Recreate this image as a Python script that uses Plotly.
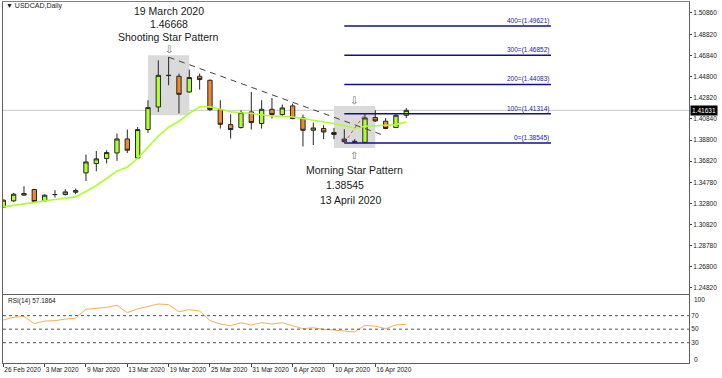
import plotly.graph_objects as go

# ---------------- data ----------------
dates = ["26 Feb 2020", "27 Feb 2020", "28 Feb 2020", "2 Mar 2020", "3 Mar 2020",
         "4 Mar 2020", "5 Mar 2020", "6 Mar 2020", "9 Mar 2020", "10 Mar 2020",
         "11 Mar 2020", "12 Mar 2020", "13 Mar 2020", "16 Mar 2020", "17 Mar 2020",
         "18 Mar 2020", "19 Mar 2020", "20 Mar 2020", "23 Mar 2020", "24 Mar 2020",
         "25 Mar 2020", "26 Mar 2020", "27 Mar 2020", "30 Mar 2020", "31 Mar 2020",
         "1 Apr 2020", "2 Apr 2020", "3 Apr 2020", "6 Apr 2020", "7 Apr 2020",
         "8 Apr 2020", "9 Apr 2020", "10 Apr 2020", "13 Apr 2020", "14 Apr 2020",
         "15 Apr 2020", "16 Apr 2020", "17 Apr 2020", "20 Apr 2020", "21 Apr 2020"]

opens = [1.3245, 1.3305, 1.3359, 1.3413, 1.3305, 1.3365, 1.3365, 1.3387, 1.3570, 1.3659,
         1.3706, 1.3759, 1.3892, 1.3712, 1.3981, 1.4195, 1.4496, 1.4486, 1.4337, 1.4486,
         1.4448, 1.4170, 1.4028, 1.4000, 1.4148, 1.4038, 1.4173, 1.4123, 1.4205, 1.4091,
         1.3974, 1.3991, 1.3953, 1.3891, 1.3870, 1.3860, 1.4095, 1.4060, 1.4000, 1.4116]
highs = [1.3318, 1.3381, 1.3444, 1.3419, 1.3365, 1.3406, 1.3416, 1.3422, 1.3744, 1.3778,
         1.3785, 1.3943, 1.3981, 1.4006, 1.4259, 1.4637, 1.46668, 1.4511, 1.4549, 1.4511,
         1.4455, 1.4259, 1.4126, 1.4164, 1.4337, 1.4259, 1.4280, 1.4218, 1.4227, 1.4123,
         1.4047, 1.4022, 1.3996, 1.3984, 1.3890, 1.41314, 1.4164, 1.4091, 1.4126, 1.4185]
lows = [1.3238, 1.3296, 1.3357, 1.3297, 1.3300, 1.3337, 1.3356, 1.3368, 1.3494, 1.3586,
        1.3659, 1.3684, 1.3759, 1.3703, 1.3949, 1.4148, 1.4401, 1.4133, 1.4331, 1.4360,
        1.4157, 1.3991, 1.3896, 1.3991, 1.3981, 1.3991, 1.4085, 1.4110, 1.4079, 1.3820,
        1.3834, 1.3891, 1.3891, 1.3860, 1.38545, 1.3858, 1.4053, 1.3984, 1.3996, 1.4090]
closes = [1.3312, 1.3368, 1.3375, 1.3299, 1.3359, 1.3365, 1.3390, 1.3403, 1.3674, 1.3703,
          1.3763, 1.3892, 1.3785, 1.3981, 1.4189, 1.4495, 1.4493, 1.4315, 1.4474, 1.4455,
          1.4170, 1.4031, 1.3981, 1.4142, 1.4047, 1.4173, 1.4123, 1.4186, 1.4085, 1.3974,
          1.3996, 1.3958, 1.3934, 1.3866, 1.3862, 1.4091, 1.4063, 1.3991, 1.4116, 1.4163]
ma_values = [1.3248, 1.3264, 1.3280, 1.3293, 1.3305, 1.3318, 1.3328, 1.3343, 1.3394, 1.3451,
             1.3517, 1.3589, 1.3624, 1.3709, 1.3813, 1.3918, 1.4003, 1.4060, 1.4135, 1.4197,
             1.4197, 1.4173, 1.4150, 1.4140, 1.4135, 1.4121, 1.4110, 1.4107, 1.4100, 1.4085,
             1.4066, 1.4053, 1.4038, 1.4017, 1.3993, 1.4012, 1.4014, 1.4022, 1.4028, 1.4053]
rsi_values = [63.6, 67.5, 69.0, 58.2, 62.0, 62.6, 65.0, 66.5, 79.4, 80.8,
              82.3, 85.3, 74.4, 79.9, 83.3, 87.3, 86.3, 75.9, 78.9, 76.9,
              62.6, 57.7, 55.2, 59.6, 56.2, 59.6, 57.7, 59.6, 55.2, 50.8,
              52.2, 49.8, 48.8, 47.3, 45.8, 55.7, 54.4, 50.8, 56.3, 57.1864]
rsi_levels = [30, 50, 70]

price_ticks = [1.50860, 1.48820, 1.46840, 1.44800, 1.42820, 1.40840, 1.38800,
               1.36820, 1.34780, 1.32800, 1.30820, 1.28780, 1.26800, 1.24820]
date_tick_idx = [0, 4, 8, 12, 16, 20, 24, 28, 32, 36]

current_price = 1.41631
fib_low, fib_high = 1.38545, 1.41314
fib_levels = [0, 100, 200, 300, 400]
fib_start_idx, fib_end_idx = 33, 53
fib_anchor_idx = [33, 35]

trend_pts_x = [16, 36.6]
trend_pts_y = [1.46668, 1.39337]

boxes = [  # (start idx, end idx, top price, bottom price)
    (14, 18, 1.4685, 1.4116),
    (32, 36, 1.4205, 1.3807),
]

# ---------------- figure ----------------
xs = list(range(len(dates)))
fig = go.Figure()

fig.add_trace(go.Candlestick(
    x=xs, open=opens, high=highs, low=lows, close=closes,
    increasing=dict(fillcolor="#ADFF2F", line=dict(color="#262626", width=1)),
    decreasing=dict(fillcolor="#F0882F", line=dict(color="#262626", width=1)),
    whiskerwidth=0, showlegend=False, hoverinfo="skip", xaxis="x", yaxis="y"))

fig.add_trace(go.Scatter(x=xs, y=ma_values, mode="lines",
                         line=dict(color="#ADFF2F", width=1.6),
                         showlegend=False, hoverinfo="skip", xaxis="x", yaxis="y"))

fig.add_trace(go.Scatter(x=trend_pts_x, y=trend_pts_y, mode="lines",
                         line=dict(color="#404040", width=1, dash="6px,5px"),
                         showlegend=False, hoverinfo="skip", xaxis="x", yaxis="y"))

fig.add_trace(go.Scatter(x=fib_anchor_idx, y=[fib_low, fib_high], mode="lines",
                         line=dict(color="#E04848", width=1, dash="dot"),
                         showlegend=False, hoverinfo="skip", xaxis="x", yaxis="y"))

fig.add_trace(go.Scatter(x=xs, y=rsi_values, mode="lines",
                         line=dict(color="#F7AE55", width=1),
                         showlegend=False, hoverinfo="skip", xaxis="x2", yaxis="y2"))

shapes = []
for (i0, i1, top, bot) in boxes:
    shapes.append(dict(type="rect", xref="x", yref="y", x0=i0, x1=i1, y0=bot, y1=top,
                       fillcolor="#DADADA", line=dict(width=0), layer="below"))

shapes.append(dict(type="line", xref="paper", yref="y", x0=0, x1=1,
                   y0=current_price, y1=current_price,
                   line=dict(color="#C8C8C8", width=1), layer="below"))

annotations = []
for lv in fib_levels:
    p = fib_low + lv / 100 * (fib_high - fib_low)
    shapes.append(dict(type="line", xref="x", yref="y", x0=fib_start_idx, x1=fib_end_idx,
                       y0=p, y1=p, line=dict(color="#10108C", width=1.5)))
    annotations.append(dict(x=fib_end_idx, y=p, xref="x", yref="y", xanchor="right",
                            yanchor="bottom", showarrow=False, yshift=-1,
                            text=f"{lv}=({p:.5f})",
                            font=dict(family="Liberation Sans, Arial", size=6.5, color="#1a1a9c")))

for lv in rsi_levels:
    shapes.append(dict(type="line", xref="paper", yref="y2", x0=0, x1=1, y0=lv, y1=lv,
                       line=dict(color="#505050", width=1, dash="dot")))

txt_font = dict(family="Liberation Sans, Arial", size=10.5, color="#1a1a1a")
arrow_font = dict(family="DejaVu Sans", size=10, color="#6a6a6a")

# shooting star labels
for text, shift in [("19 March 2020", 46), ("1.46668", 33), ("Shooting Star Pattern", 20)]:
    annotations.append(dict(x=16, y=1.46668, xref="x", yref="y", text=text, showarrow=False,
                            yanchor="middle", yshift=shift, font=txt_font))
annotations.append(dict(x=16, y=1.46668, xref="x", yref="y", text="⇩", showarrow=False,
                        yanchor="middle", yshift=8, font=arrow_font))
# morning star labels
annotations.append(dict(x=34, y=boxes[1][2], xref="x", yref="y", text="⇩", showarrow=False,
                        yanchor="middle", yshift=5, xshift=-1, font=arrow_font))
annotations.append(dict(x=34, y=fib_low, xref="x", yref="y", text="⇧", showarrow=False,
                        yanchor="middle", yshift=-13, xshift=-1, font=arrow_font))
for text, shift, xs_ in [("Morning Star Pattern", -27, 0), ("1.38545", -42, -10),
                         ("13 April 2020", -57, -4)]:
    annotations.append(dict(x=34, y=fib_low, xref="x", yref="y", text=text, showarrow=False,
                            yanchor="middle", yshift=shift, xshift=xs_, font=txt_font))

small = dict(family="Liberation Sans, Arial", size=6.5, color="#202020")
annotations.append(dict(x=0.0015, y=0.989, xref="paper", yref="paper", xanchor="left",
                        yanchor="middle", showarrow=False, text="▼ USDCAD,Daily",
                        font=dict(family="Liberation Sans, Arial", size=7, color="#202020")))
annotations.append(dict(x=0.004, y=0.1726, xref="paper", yref="paper", xanchor="left",
                        yanchor="middle", showarrow=False,
                        text=f"RSI(14) {rsi_values[-1]:.4f}", font=small))
annotations.append(dict(x=1, y=current_price, xref="paper", yref="y", xanchor="left",
                        yanchor="middle", showarrow=False, xshift=1,
                        text=f"{current_price:.5f}", bgcolor="#000000", borderpad=1,
                        font=dict(family="Liberation Sans, Arial", size=6.5, color="#ffffff")))
for val, sh in [(100, -4), (0, 4)]:
    annotations.append(dict(x=1, y=val, xref="paper", yref="y2", xanchor="left",
                            yanchor="middle", showarrow=False, xshift=3, yshift=sh,
                            text=str(val), font=small))

main_bottom = 0.1925
rsi_top = 0.1873

fig.update_layout(
    width=722, height=378,
    margin=dict(l=3, r=33, t=2, b=15, autoexpand=False),
    paper_bgcolor="white", plot_bgcolor="white",
    showlegend=False, boxgap=0.4,
    xaxis=dict(domain=[0, 1], anchor="y", range=[-0.03, 66.36], showticklabels=False,
               showgrid=False, zeroline=False, showline=True, mirror=True,
               linecolor="#808080", linewidth=1, rangeslider=dict(visible=False),
               ticks="", automargin=False),
    xaxis2=dict(domain=[0, 1], anchor="y2", matches="x", showgrid=False, zeroline=False,
                showline=True, mirror=True, linecolor="#606060", linewidth=1,
                tickvals=date_tick_idx, ticktext=[dates[i] for i in date_tick_idx],
                ticks="outside", ticklen=3, tickcolor="#404040", tickangle=0,
                ticklabelposition="outside right", tickfont=small, automargin=False),
    yaxis=dict(domain=[main_bottom, 1], anchor="x", side="right", range=[1.2427, 1.5190],
               showgrid=False, zeroline=False, showline=True, mirror=True,
               linecolor="#606060", linewidth=1, tickvals=price_ticks,
               ticktext=[f"{v:.5f}" for v in price_ticks], ticks="outside", ticklen=2,
               tickcolor="#404040", tickfont=small, automargin=False),
    yaxis2=dict(domain=[0, rsi_top], anchor="x2", side="right", range=[0, 100],
                showgrid=False, zeroline=False, showline=True, mirror=True,
                linecolor="#606060", linewidth=1, tickvals=rsi_levels,
                ticktext=[str(v) for v in rsi_levels], ticks="", tickfont=small,
                automargin=False),
    shapes=shapes, annotations=annotations,
)

fig.write_html("out.html")
